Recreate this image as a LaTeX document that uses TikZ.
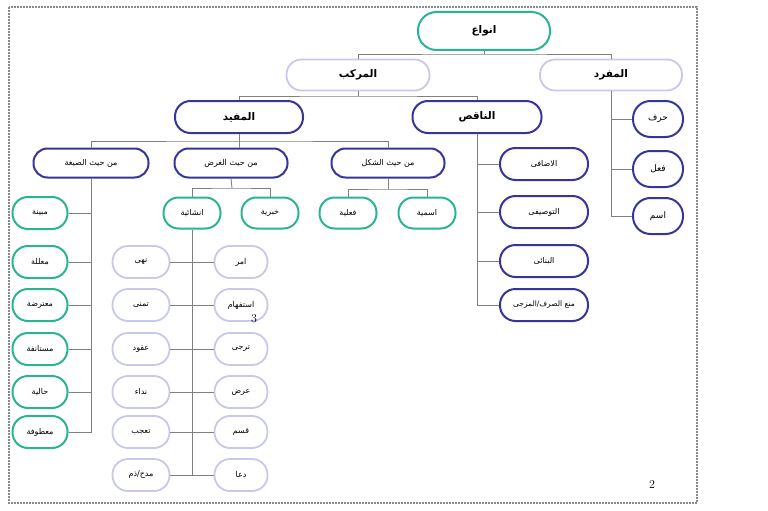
\documentclass[tikz,border=0pt]{standalone}
\usepackage{fontspec}
\newfontfamily\arabicfont[Script=Arabic]{DejaVu Sans}
\TeXXeTstate=1
\newcommand\urd[1]{{\arabicfont\beginR #1\endR}}
\definecolor{tealc}{HTML}{2BB494}
\definecolor{navyc}{HTML}{35359A}
\definecolor{lavc}{HTML}{C8C8EA}
\definecolor{linec}{HTML}{808080}
\definecolor{borderc}{HTML}{8A8A8A}
\tikzset{
  pillbase/.style={rectangle, fill=white, line width=2pt, inner sep=0pt, text=black,
    minimum height=32, rounded corners=15.5, font=\fontsize{8}{10}\selectfont},
  tealp/.style={pillbase, draw=tealc},
  navyp/.style={pillbase, draw=navyc},
  lavp/.style={pillbase, draw=lavc, line width=1.8pt},
  bigtxt/.style={font=\fontsize{10.5}{12}\selectfont\bfseries},
  conn/.style={draw=linec, line width=0.9pt},
  framebox/.style={draw=borderc, line width=1.8pt, dash pattern=on 2pt off 1pt},
  numtxt/.style={inner sep=0pt, font=\fontsize{12}{14}\selectfont}
}
\begin{document}
\begin{tikzpicture}[x=1pt,y=-1pt]
\useasboundingbox (0,0) rectangle (768,511);
\draw[framebox] (9,7) rectangle (697,503);

% level 0-2
\node[tealp, bigtxt, minimum width=132, minimum height=38, rounded corners=18.5] (anwa) at (484,31) {\urd{انواع}};
\node[lavp, bigtxt, minimum width=143, minimum height=31, rounded corners=15] (murakkab) at (358,75) {\urd{المرکب}};
\node[lavp, bigtxt, minimum width=142, minimum height=31, rounded corners=15] (mufrad) at (611,75) {\urd{المفرد}};
\node[navyp, bigtxt, minimum width=128] (mufid) at (239,117) {\urd{المفید}};
\node[navyp, bigtxt, minimum width=129] (naqis) at (477,117) {\urd{الناقص}};

% mufrad children
\node[navyp, font=\fontsize{9}{11}\selectfont, minimum width=50, minimum height=36, rounded corners=17.5] (harf) at (658,119) {\urd{حرف}};
\node[navyp, font=\fontsize{9}{11}\selectfont, minimum width=50, minimum height=36, rounded corners=17.5] (fiil) at (658,169) {\urd{فعل}};
\node[navyp, font=\fontsize{9}{11}\selectfont, minimum width=50, minimum height=36, rounded corners=17.5] (ism) at (658,216) {\urd{اسم}};

% naqis children
\node[navyp, minimum width=88] (idafi) at (544,164) {\urd{الاضافی}};
\node[navyp, minimum width=88] (tawsifi) at (544,212) {\urd{التوصیفی}};
\node[navyp, minimum width=88] (binai) at (544,261) {\urd{البنائی}};
\node[navyp, minimum width=88, font=\fontsize{7.5}{9}\selectfont] (mana) at (544,305) {\urd{منع الصرف/المزجی}};

% mufid children
\node[navyp, minimum width=115, minimum height=29, rounded corners=14] (sigha) at (91,163) {\urd{من حیث الصیغة}};
\node[navyp, minimum width=113, minimum height=29, rounded corners=14] (gharad) at (231,163) {\urd{من حیث الغرض}};
\node[navyp, minimum width=113, minimum height=29, rounded corners=14] (shakl) at (388,163) {\urd{من حیث الشکل}};

% gharad / shakl children
\node[tealp, minimum width=57, minimum height=31, rounded corners=15] (inshaiya) at (192,213) {\urd{انشائیة}};
\node[tealp, minimum width=57, minimum height=31, rounded corners=15] (khabariya) at (270,213) {\urd{خبریة}};
\node[tealp, minimum width=57, minimum height=31, rounded corners=15] (fiiliya) at (348,213) {\urd{فعلیة}};
\node[tealp, minimum width=57, minimum height=31, rounded corners=15] (ismiya) at (427,213) {\urd{اسمیة}};

% sigha children
\node[tealp, minimum width=55] (mubayyina) at (40,213) {\urd{مبینة}};
\node[tealp, minimum width=55] (muallala) at (40,262) {\urd{معللة}};
\node[tealp, minimum width=55] (mutarida) at (40,305) {\urd{معترضة}};
\node[tealp, minimum width=55] (mustanifa) at (40,349) {\urd{مستانفة}};
\node[tealp, minimum width=55] (haliya) at (40,392) {\urd{حالیة}};
\node[tealp, minimum width=55] (matufa) at (40,432) {\urd{معطوفة}};

% inshaiya children
\node[lavp, minimum width=53] (amr) at (241,262) {\urd{امر}};
\node[lavp, minimum width=53] (istifham) at (241,305) {\urd{استفهام}};
\node[lavp, minimum width=53] (tarajji) at (241,349) {\urd{ترجی}};
\node[lavp, minimum width=53] (arz) at (241,392) {\urd{عرض}};
\node[lavp, minimum width=53] (qasam) at (241,432) {\urd{قسم}};
\node[lavp, minimum width=53] (dua) at (241,475) {\urd{دعا}};
\node[lavp, minimum width=57] (nahy) at (141,262) {\urd{نهی}};
\node[lavp, minimum width=57] (tamanni) at (141,305) {\urd{تمنی}};
\node[lavp, minimum width=57] (uqud) at (141,349) {\urd{عقود}};
\node[lavp, minimum width=57] (nida) at (141,392) {\urd{نداء}};
\node[lavp, minimum width=57] (taajjub) at (141,432) {\urd{تعجب}};
\node[lavp, minimum width=57] (madh) at (141,475) {\urd{مدح/ذم}};

% page numbers
\node[numtxt] (n3) at (254,319) {3};
\node[numtxt] (n2) at (652,485) {2};

% bus coordinates
\coordinate (b1) at (484,54);
\coordinate (b2) at (358,96);
\coordinate (b3) at (239,141);
\coordinate (b4) at (232,188);
\coordinate (b5) at (388,189);

% connectors
\draw[conn] (anwa.south) -- (b1);
\draw[conn] (murakkab.north) |- (b1) -| (mufrad.north);
\draw[conn] (murakkab.south) -- (b2);
\draw[conn] (mufid.north) |- (b2) -| (naqis.north);

\draw[conn] (mufrad.south) |- (ism.west);
\draw[conn] (mufrad.south |- harf.west) -- (harf.west);
\draw[conn] (mufrad.south |- fiil.west) -- (fiil.west);

\draw[conn] (naqis.south) |- (mana.west);
\draw[conn] (naqis.south |- idafi.west) -- (idafi.west);
\draw[conn] (naqis.south |- tawsifi.west) -- (tawsifi.west);
\draw[conn] (naqis.south |- binai.west) -- (binai.west);

\draw[conn] (mufid.south) -- (b3);
\draw[conn] (sigha.north) |- (b3) -| (shakl.north);
\draw[conn] (b3) -- (b3 |- gharad.north);

\draw[conn] (gharad.south) -- (b4);
\draw[conn] (inshaiya.north) |- (b4) -| (khabariya.north);
\draw[conn] (shakl.south) -- (b5);
\draw[conn] (fiiliya.north) |- (b5) -| (ismiya.north);

\draw[conn] (sigha.south) |- (matufa.east);
\draw[conn] (sigha.south |- mubayyina.east) -- (mubayyina.east);
\draw[conn] (sigha.south |- muallala.east) -- (muallala.east);
\draw[conn] (sigha.south |- mutarida.east) -- (mutarida.east);
\draw[conn] (sigha.south |- mustanifa.east) -- (mustanifa.east);
\draw[conn] (sigha.south |- haliya.east) -- (haliya.east);

\draw[conn] (inshaiya.south) -- (inshaiya.south |- dua.west);
\draw[conn] (nahy.east) -- (amr.west);
\draw[conn] (tamanni.east) -- (istifham.west);
\draw[conn] (uqud.east) -- (tarajji.west);
\draw[conn] (nida.east) -- (arz.west);
\draw[conn] (taajjub.east) -- (qasam.west);
\draw[conn] (madh.east) -- (dua.west);
\end{tikzpicture}
\end{document}
